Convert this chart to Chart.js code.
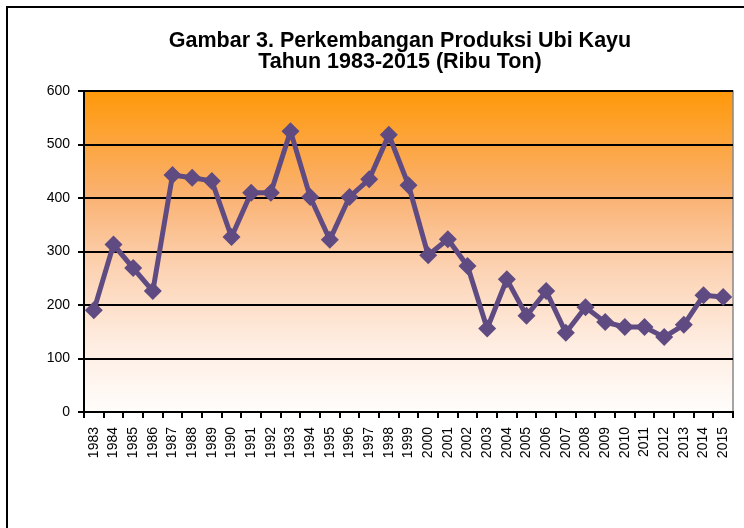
<!DOCTYPE html>
<html>
<head>
<meta charset="utf-8">
<script src="https://cdn.jsdelivr.net/npm/chart.js@4"></script>
<style>
  html, body { margin: 0; padding: 0; background: #fff; }
  #wrap { position: relative; width: 744px; height: 528px; overflow: hidden; }
  #frame { position: absolute; left: 6px; top: 6px; width: 760px; height: 560px; border: 2px solid #000; box-sizing: border-box; }
  canvas { position: absolute; left: 0; top: 0; }
</style>
</head>
<body>
<div id="wrap">
  <div id="frame"></div>
  <canvas id="chart" width="744" height="528"></canvas>
</div>
<script>
// Produksi ubi kayu (ribu ton)
var tahun = ['1983','1984','1985','1986','1987','1988','1989','1990','1991','1992','1993',
  '1994','1995','1996','1997','1998','1999','2000','2001','2002','2003','2004','2005',
  '2006','2007','2008','2009','2010','2011','2012','2013','2014','2015'];
var produksi = [190, 313, 269, 226, 443, 438, 432, 327, 410, 410, 525,
  402, 322, 402, 435, 518, 424, 293, 323, 273, 156, 248, 180,
  226, 148, 196, 168, 159, 159, 140, 163, 218, 215];
var yTicks = [0, 100, 200, 300, 400, 500, 600];
var judul = ['Gambar 3. Perkembangan Produksi Ubi Kayu', 'Tahun 1983-2015 (Ribu Ton)'];

var fontFam = 'Arial, "Liberation Sans", sans-serif';

// latar gradasi oranye di area plot
const bgPlugin = {
    id: 'bgGradient',
    beforeDraw(chart) {
        const ctx = chart.ctx, a = chart.chartArea;
        const g = ctx.createLinearGradient(0, a.top, 0, a.bottom);
        g.addColorStop(0, 'rgb(255,153,10)');
        g.addColorStop(0.33, 'rgb(250,178,115)');
        g.addColorStop(0.55, 'rgb(252,210,178)');
        g.addColorStop(0.78, 'rgb(254,236,224)');
        g.addColorStop(1, 'rgb(255,253,251)');
        ctx.save();
        ctx.fillStyle = g;
        ctx.fillRect(a.left, a.top, a.right - a.left, a.bottom - a.top);
        ctx.strokeStyle = '#888';
        ctx.lineWidth = 1.5;
        ctx.beginPath();
        ctx.moveTo(a.left, a.top);
        ctx.lineTo(a.right, a.top);
        ctx.lineTo(a.right, a.bottom);
        ctx.stroke();
        ctx.restore();
    }
};

// judul digambar sendiri supaya posisinya pas
const titlePlugin = {
    id: 'judul',
    afterDraw(chart) {
        const ctx = chart.ctx;
        ctx.save();
        ctx.fillStyle = '#000';
        ctx.font = 'bold 21.5px ' + fontFam;
        ctx.textAlign = 'center';
        ctx.textBaseline = 'alphabetic';
        ctx.fillText(judul[0], 400, 47);
        ctx.fillText(judul[1], 400, 68);
        ctx.restore();
    }
};

const ctx = document.getElementById('chart');
const chart = new Chart(ctx, {
    type: 'line',
    data: {
        labels: tahun,
        datasets: [{
            label: 'Produksi',
            data: produksi,
            borderColor: '#5F4B82',
            backgroundColor: '#5F4B82',
            borderWidth: 5,
            pointStyle: 'rectRot',
            pointRadius: 9,
            pointBorderWidth: 0,
            tension: 0
        }]
    },
    options: {
        responsive: false,
        animation: false,
        layout: { padding: { left: 0, right: 11, top: 91, bottom: 0 } },
        plugins: {
            legend: { display: false },
            tooltip: { enabled: false },
            title: { display: false }
        },
        scales: {
            x: {
                offset: true,
                grid: { offset: true, display: true, drawOnChartArea: false, color: '#000', lineWidth: 2, tickLength: 6 },
                border: { color: '#000', width: 2 },
                ticks: {
                    autoSkip: false,
                    maxRotation: 90,
                    minRotation: 90,
                    color: '#000',
                    padding: 9,
                    font: { family: fontFam, size: 14 }
                },
                afterFit(scale) {
                    scale.height = 116;
                    scale.paddingLeft = 0;
                    scale.paddingRight = 0;
                }
            },
            y: {
                min: 0,
                max: 600,
                afterBuildTicks(scale) { scale.ticks = yTicks.map(v => ({ value: v })); },
                grid: { color: '#000', lineWidth: 2, tickLength: 6, drawOnChartArea: true },
                border: { color: '#000', width: 2 },
                ticks: {
                    color: '#000',
                    padding: 8,
                    font: { family: fontFam, size: 14 }
                },
                afterFit(scale) { scale.width = 84; }
            }
        }
    },
    plugins: [bgPlugin, titlePlugin]
});
</script>
</body>
</html>
